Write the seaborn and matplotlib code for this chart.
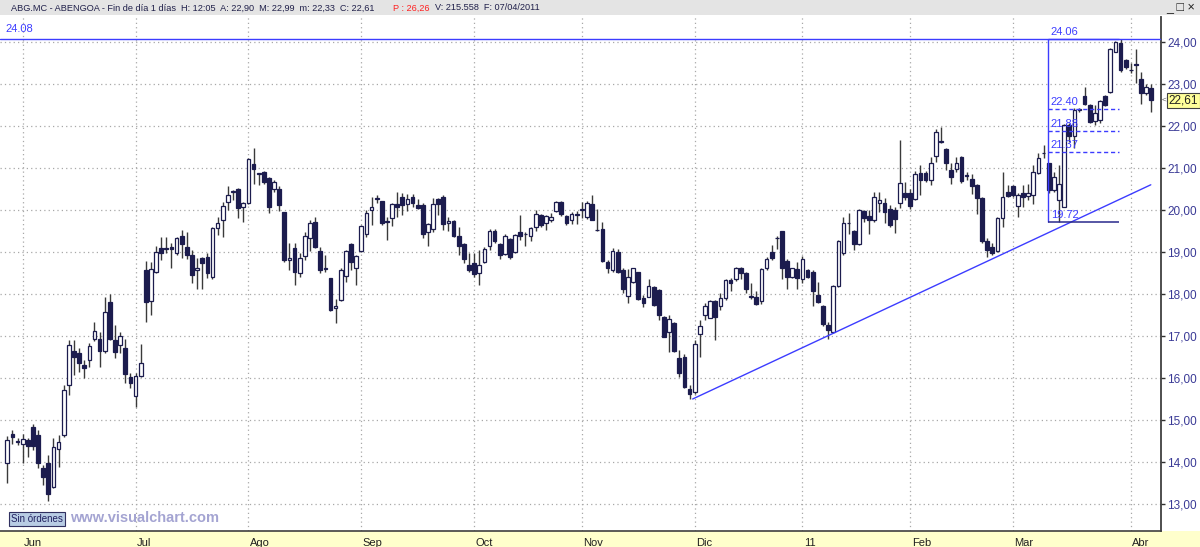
import numpy as np
import pandas as pd
import matplotlib
matplotlib.use('Agg')
import matplotlib.pyplot as plt
import matplotlib.transforms as mtrans
from matplotlib.patches import Rectangle
import seaborn as sns

#### OHLC, one candle per trading day (27/05/2010 .. 07/04/2011)
opens = [13.98, 14.67, 14.49, 14.44, 14.52, 14.83, 14.64, 13.85, 13.98, 13.41,
         14.30, 14.64, 15.83, 16.64, 16.59, 16.31, 16.44, 16.92, 16.92, 16.64,
         17.81, 16.90, 16.79, 16.72, 16.03, 15.56, 16.05, 18.57, 17.84, 18.52,
         19.09, 19.09, 19.11, 18.97, 19.39, 19.11, 18.93, 18.56, 18.85, 18.89,
         18.40, 19.56, 19.76, 20.20, 20.44, 20.50, 20.06, 20.16, 21.10, 20.86,
         20.90, 20.75, 20.49, 20.49, 19.96, 18.81, 19.09, 18.51, 18.91, 19.33,
         19.72, 19.03, 18.61, 18.37, 17.66, 17.86, 18.43, 19.19, 18.61, 19.02,
         19.44, 20.00, 20.27, 20.21, 19.73, 19.80, 20.14, 20.32, 20.14, 20.32,
         20.13, 20.13, 19.48, 19.54, 20.25, 20.32, 19.68, 19.74, 19.37, 19.19,
         18.69, 18.73, 18.51, 18.75, 19.14, 19.51, 19.19, 18.95, 19.30, 19.01,
         19.48, 19.43, 19.37, 19.59, 19.88, 19.68, 19.75, 19.98, 20.20, 19.86,
         19.75, 19.89, 20.00, 19.84, 20.14, 19.53, 19.54, 18.77, 18.56, 19.01,
         18.57, 17.95, 18.29, 18.52, 17.90, 17.94, 18.17, 18.10, 17.46, 17.10,
         17.32, 16.47, 16.51, 15.73, 15.67, 17.05, 17.50, 17.44, 17.84, 17.71,
         17.90, 18.33, 18.35, 18.61, 18.51, 17.94, 17.94, 17.84, 18.61, 19.01,
         19.33, 19.51, 18.79, 18.41, 18.59, 18.35, 18.56, 18.52, 17.98, 17.71,
         17.26, 17.10, 18.19, 18.97, 19.68, 19.50, 19.19, 19.98, 19.86, 19.76,
         20.17, 20.16, 20.02, 20.00, 20.16, 20.41, 20.41, 20.25, 20.89, 20.87,
         20.71, 21.29, 21.62, 21.45, 20.95, 20.97, 21.27, 20.82, 20.73, 20.60,
         20.28, 19.27, 19.11, 19.03, 19.80, 20.44, 20.57, 20.10, 20.41, 20.33,
         20.36, 20.89, 21.35, 21.11, 20.48, 20.24, 20.08, 22.02, 21.76, 22.38,
         22.71, 22.50, 22.13, 22.14, 22.71, 22.82, 23.77, 23.98, 23.57, 23.34,
         23.46, 23.11, 22.78, 22.90]
highs = [14.62, 14.75, 14.56, 14.67, 14.56, 14.90, 14.76, 13.93, 14.17, 14.56,
         14.64, 15.83, 16.90, 16.90, 16.71, 16.43, 16.83, 17.34, 17.10, 17.94,
         18.00, 17.26, 17.10, 16.94, 16.11, 16.13, 16.81, 18.79, 18.75, 19.14,
         19.35, 19.35, 19.21, 19.35, 19.52, 19.48, 19.05, 18.85, 18.89, 18.97,
         19.59, 19.83, 20.20, 20.56, 20.48, 20.52, 20.20, 21.23, 21.47, 20.89,
         20.94, 20.79, 20.71, 20.56, 19.96, 19.21, 19.21, 18.97, 19.48, 19.76,
         19.84, 19.11, 18.93, 18.37, 17.87, 18.61, 19.05, 19.21, 18.93, 19.64,
         20.00, 20.30, 20.36, 20.22, 19.84, 20.16, 20.44, 20.40, 20.38, 20.37,
         20.25, 20.16, 19.70, 20.28, 20.28, 20.36, 19.83, 19.76, 19.59, 19.21,
         18.97, 18.97, 19.05, 19.13, 19.54, 19.54, 19.21, 19.42, 19.33, 19.42,
         19.88, 19.48, 19.59, 20.00, 19.90, 19.88, 19.92, 20.21, 20.21, 19.88,
         19.96, 19.98, 20.20, 20.22, 20.36, 20.02, 19.72, 18.81, 19.09, 19.07,
         18.61, 18.59, 18.63, 18.53, 17.98, 18.35, 18.19, 18.11, 17.48, 17.50,
         17.34, 16.67, 16.57, 15.83, 16.90, 17.37, 17.79, 17.86, 17.86, 18.02,
         18.35, 18.37, 18.65, 18.65, 18.53, 18.25, 18.06, 18.63, 18.89, 19.17,
         19.38, 19.51, 18.83, 18.63, 18.77, 18.90, 18.59, 18.56, 18.29, 17.74,
         17.34, 18.21, 19.29, 19.83, 19.94, 19.52, 20.02, 20.00, 20.00, 20.44,
         20.44, 20.28, 20.12, 20.08, 21.67, 20.67, 20.49, 20.94, 21.07, 20.94,
         21.27, 21.94, 21.98, 21.47, 21.13, 21.27, 21.29, 20.91, 20.86, 20.62,
         20.32, 19.33, 19.21, 19.84, 20.91, 20.60, 20.60, 20.41, 20.60, 20.62,
         21.07, 21.35, 21.55, 21.13, 20.91, 21.07, 22.04, 22.06, 22.42, 22.42,
         22.92, 22.52, 22.50, 22.63, 22.74, 23.85, 24.03, 24.06, 23.59, 23.49,
         23.83, 23.29, 23.00, 22.99]
lows = [13.51, 14.43, 14.40, 13.98, 14.13, 14.29, 13.85, 13.45, 13.08, 13.37,
        13.87, 14.60, 15.60, 16.07, 16.15, 15.99, 16.27, 16.87, 16.27, 16.59,
        16.90, 16.47, 16.59, 15.87, 15.75, 15.32, 16.02, 17.34, 17.50, 18.49,
        18.81, 18.97, 18.61, 18.94, 18.85, 18.83, 18.25, 18.13, 18.13, 18.37,
        18.35, 19.40, 19.35, 20.00, 20.24, 19.82, 19.72, 20.14, 20.62, 20.60,
        20.63, 19.92, 20.44, 19.98, 18.77, 18.56, 18.21, 18.40, 18.81, 19.03,
        19.09, 18.51, 18.53, 17.60, 17.32, 17.84, 18.29, 18.57, 18.21, 19.01,
        19.35, 19.64, 20.16, 19.64, 19.29, 19.62, 19.84, 19.88, 19.98, 20.08,
        20.02, 19.33, 19.14, 19.48, 19.88, 19.52, 19.51, 19.35, 18.93, 18.73,
        18.53, 18.41, 18.21, 18.73, 19.05, 19.21, 18.83, 18.93, 18.83, 18.98,
        19.29, 19.14, 19.25, 19.51, 19.59, 19.52, 19.72, 19.96, 19.86, 19.64,
        19.67, 19.67, 19.80, 19.78, 19.75, 19.51, 18.77, 18.51, 18.53, 18.51,
        18.02, 17.78, 18.27, 17.86, 17.68, 17.92, 17.71, 17.38, 16.97, 16.63,
        16.63, 16.03, 15.75, 15.49, 15.63, 16.51, 17.38, 17.42, 16.90, 17.62,
        17.86, 18.06, 18.32, 18.35, 18.03, 17.87, 17.74, 17.76, 18.56, 18.81,
        19.06, 18.35, 18.13, 18.37, 18.11, 18.25, 18.37, 17.71, 17.79, 17.24,
        16.92, 17.08, 18.17, 18.93, 19.44, 19.05, 19.17, 19.72, 19.44, 19.72,
        19.96, 19.70, 19.60, 19.46, 20.04, 20.24, 20.02, 20.24, 20.36, 20.67,
        20.60, 21.15, 21.60, 20.95, 20.63, 20.91, 20.65, 20.71, 20.38, 19.90,
        19.21, 18.89, 18.93, 19.01, 19.60, 20.32, 20.32, 19.84, 20.08, 20.24,
        20.14, 20.86, 21.23, 20.41, 20.44, 19.72, 20.06, 21.63, 21.47, 22.34,
        22.50, 22.06, 22.02, 22.06, 22.48, 22.78, 23.75, 23.29, 23.35, 23.27,
        23.02, 22.52, 22.74, 22.33]
closes = [14.52, 14.60, 14.47, 14.54, 14.37, 14.38, 13.97, 13.65, 13.24, 14.35,
          14.48, 15.71, 16.79, 16.51, 16.35, 16.23, 16.75, 17.13, 16.65, 17.56,
          16.93, 16.61, 17.01, 16.10, 15.89, 16.05, 16.35, 17.82, 18.60, 19.01,
          18.98, 19.08, 19.07, 19.33, 19.19, 18.93, 18.45, 18.63, 18.73, 18.51,
          19.56, 19.70, 20.10, 20.36, 20.45, 20.05, 20.16, 21.21, 20.97, 20.86,
          20.67, 20.08, 20.67, 20.12, 18.81, 18.85, 18.53, 18.85, 19.37, 19.68,
          19.11, 18.57, 18.59, 17.63, 17.71, 18.57, 19.03, 18.77, 18.90, 19.62,
          19.94, 20.08, 20.29, 19.68, 19.72, 20.14, 20.06, 20.12, 20.25, 20.16,
          20.04, 19.43, 19.67, 20.14, 20.14, 19.67, 19.74, 19.37, 19.14, 18.83,
          18.57, 18.48, 18.69, 19.06, 19.51, 19.25, 18.93, 19.39, 18.87, 19.40,
          19.37, 19.42, 19.56, 19.90, 19.64, 19.86, 19.83, 20.20, 19.90, 19.70,
          19.90, 19.88, 20.01, 20.16, 19.75, 19.52, 18.79, 18.61, 19.03, 18.53,
          18.13, 18.40, 18.61, 17.87, 17.79, 18.19, 17.74, 17.50, 16.98, 17.40,
          16.65, 16.11, 15.79, 15.63, 16.81, 17.24, 17.71, 17.84, 17.46, 17.90,
          18.33, 18.25, 18.61, 18.51, 18.13, 17.93, 17.76, 18.59, 18.83, 18.85,
          19.34, 18.61, 18.41, 18.61, 18.37, 18.83, 18.41, 18.06, 17.82, 17.29,
          17.14, 18.19, 19.26, 19.68, 19.69, 19.19, 20.00, 19.80, 19.75, 20.32,
          20.24, 19.96, 19.64, 19.78, 20.65, 20.32, 20.10, 20.86, 20.71, 20.71,
          21.11, 21.86, 21.63, 21.13, 20.79, 21.11, 20.70, 20.81, 20.57, 20.28,
          19.25, 19.05, 18.97, 19.80, 20.32, 20.33, 20.36, 20.36, 20.30, 20.41,
          20.91, 21.23, 21.36, 20.48, 20.79, 20.62, 22.02, 21.76, 22.38, 22.39,
          22.52, 22.10, 22.30, 22.60, 22.50, 23.83, 24.00, 23.33, 23.40, 23.33,
          23.45, 22.78, 22.92, 22.61]

month_pos = [3, 25, 47, 69, 91, 112, 134, 155, 176, 196, 219]
month_lab = ['Jun', 'Jul', 'Ago', 'Sep', 'Oct', 'Nov', 'Dic', '11', 'Feb', 'Mar', 'Abr']
price_ticks = list(range(13, 25))

res_level = 24.08
fib_levels = [24.06, 22.40, 21.88, 21.37, 19.72]
fib_from, fib_to = 202.8, 216.7
trend_x = [133.6, 222.9]
trend_y = [15.50, 20.60]
last_close = 22.61

df = pd.DataFrame({'o': opens, 'h': highs, 'l': lows, 'c': closes})
df['i'] = np.arange(len(df))

sns.set_theme(style='white')
plt.rcParams['font.family'] = ['Liberation Sans', 'DejaVu Sans']

navy = '#1c1c4e'
blue = '#3c3cff'
W, H = 1200, 547

fig = plt.figure(figsize=(12, 5.47), dpi=100)
fig.patch.set_facecolor('white')
ax = fig.add_axes([0, 16 / H, 1161 / W, (531 - 17) / H])
ax.set_facecolor('white')

# bottom yellow band and header bar
fig.patches.append(Rectangle((0, 0), 1, 16 / H, transform=fig.transFigure,
                             facecolor='#ffffcc', edgecolor='none', zorder=-5))
fig.patches.append(Rectangle((0, 1 - 15 / H), 1, 15 / H, transform=fig.transFigure,
                             facecolor='#e4e4e4', edgecolor='none', zorder=-5))

# candles
up = df[df.c >= df.o]
dn = df[df.c < df.o]
ax.vlines(df.i, df.l, df.h, color='#3a3a3a', lw=1, zorder=2)
ax.bar(up.i, (up.c - up.o).clip(lower=0.015), bottom=up.o, width=0.72,
       color='white', edgecolor=navy, lw=0.9, zorder=3)
ax.bar(dn.i, (dn.o - dn.c).clip(lower=0.015), bottom=dn.c, width=0.72,
       color=navy, edgecolor=navy, lw=0.9, zorder=3)

# support line
sns.lineplot(x=trend_x, y=trend_y, ax=ax, color=blue, lw=1, zorder=4)

# resistance
ax.axhline(res_level, color=blue, lw=1, zorder=4)
ax.text(-0.45, res_level + 0.1, f'{res_level:.2f}', color=blue, fontsize=8, va='bottom')

# fibonacci retracement
ax.vlines(fib_from, fib_levels[-1], fib_levels[0], color=blue, lw=1, zorder=4)
for k, lev in enumerate(fib_levels):
    if k == 0:
        ax.hlines(lev, fib_from, fib_to, color=blue, lw=1, zorder=4)
    elif k == len(fib_levels) - 1:
        ax.hlines(lev, fib_from, fib_to, color='#28288c', lw=1.1, zorder=4)
    else:
        ax.hlines(lev, fib_from, fib_to, color=blue, lw=1, ls=(0, (3, 2)), zorder=4)
    ax.text(fib_from + 0.6, lev + 0.05, f'{lev:.2f}', color=blue, fontsize=8,
            va='bottom', zorder=5)

ax.set_xlim(-1.42, 224.89)
ax.set_ylim(12.357, 24.595)

ax.set_yticks(price_ticks)
ax.set_yticklabels([f'{v:.2f}'.replace('.', ',') for v in price_ticks])
ax.yaxis.tick_right()
ax.tick_params(axis='y', direction='out', length=3, width=1, colors='#303030',
               labelcolor='#3a3a96', labelsize=8.5, pad=1.5)
ax.set_xticks(month_pos)
ax.set_xticklabels(month_lab, ha='left')
ax.tick_params(axis='x', direction='out', length=6, width=1, colors='#303030',
               labelcolor='#202020', labelsize=8, pad=-1)
for lab in ax.get_xticklabels():
    lab.set_transform(lab.get_transform() + mtrans.ScaledTranslation(1.5 / 100, 0, fig.dpi_scale_trans))

ax.grid(True, ls=(0, (1, 2.5)), color='#a8a8a8', lw=0.9)
ax.set_axisbelow(True)
for s in ['top', 'left']:
    ax.spines[s].set_visible(False)
ax.spines['right'].set_color('#404040')
ax.spines['right'].set_linewidth(1.3)
ax.spines['bottom'].set_color('#404040')
ax.spines['bottom'].set_linewidth(1.2)

# last price tag on the axis
tr = mtrans.blended_transform_factory(ax.transAxes, ax.transData)
ax.text(1.0065, last_close, f'{last_close:.2f}'.replace('.', ','), transform=tr,
        fontsize=8.5, color='#202020', va='center', ha='left', clip_on=False,
        bbox=dict(boxstyle='square,pad=0.15', facecolor='#ffff99', edgecolor='#404040', lw=0.8))
ax.text(1.0005, last_close, '<', transform=tr, fontsize=6, color='#606060',
        va='center', ha='left', clip_on=False)

# header
fig.text(11 / W, 1 - 8 / H,
         'ABG.MC - ABENGOA - Fin de día 1 días  H: 12:05  A: 22,90  M: 22,99  m: 22,33  C: 22,61',
         fontsize=6.6, color='#20204a', va='center')
fig.text(393 / W, 1 - 8 / H, 'P : 26,26', fontsize=6.6, color='#ff2020', va='center')
fig.text(435 / W, 1 - 8 / H, 'V: 215.558  F: 07/04/2011', fontsize=6.6, color='#20204a', va='center')
fig.text(1166 / W, 1 - 8 / H, '_ □ ×', fontsize=9, color='#202020', va='center')

# footer stamps
fig.text(11 / W, 1 - 519 / H, 'Sin órdenes', fontsize=7, color='#202060', va='center',
         bbox=dict(boxstyle='square,pad=0.25', facecolor='#b8cce4', edgecolor='#303060', lw=0.8))
fig.text(70 / W, 1 - 518 / H, 'www.visualchart.com', fontsize=10.5, fontweight='bold',
         color='#a4a4d2', va='center')

fig.savefig('out.png', dpi=100)
